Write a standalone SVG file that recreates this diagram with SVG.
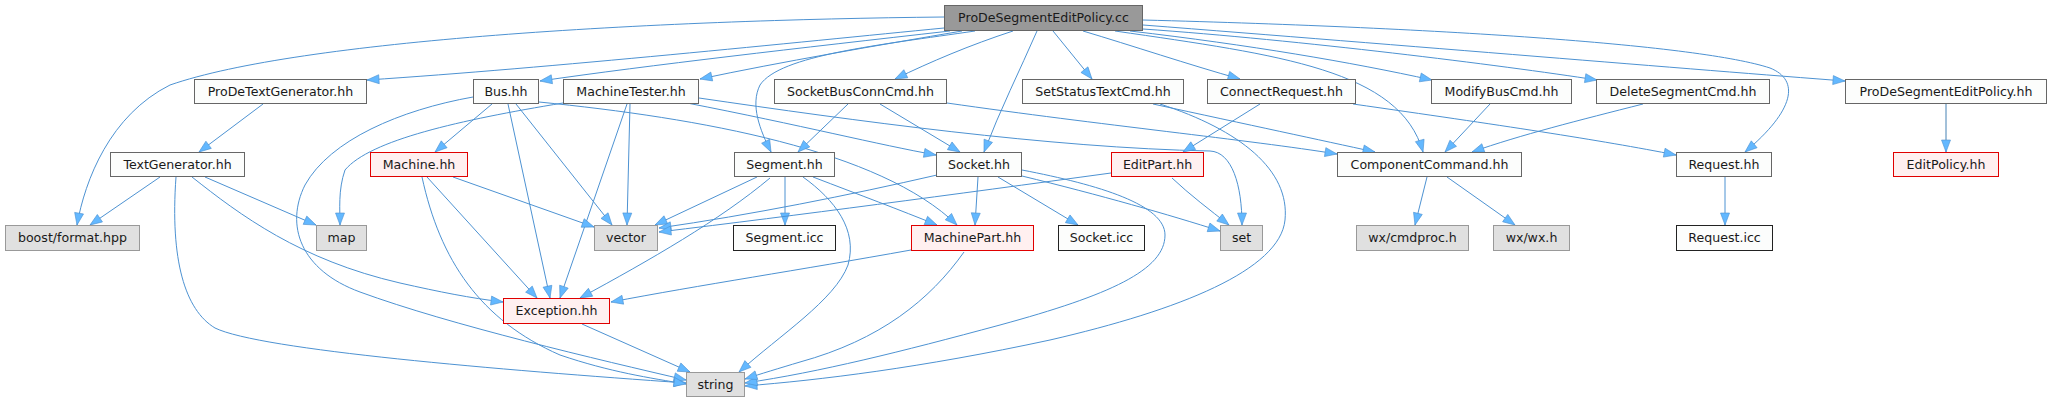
<svg xmlns="http://www.w3.org/2000/svg" width="2052" height="403" viewBox="0 0 2052 403">
<style>
.n rect{fill:#fcfdfc;stroke:#666666;stroke-width:1}
.k rect{fill:#fcfdfc;stroke:#222222;stroke-width:1}
.g rect{fill:#e0e0e0;stroke:#999999;stroke-width:1}
.r rect{fill:#fff0f0;stroke:#e00000;stroke-width:1}
.root rect{fill:#999999;stroke:#666666;stroke-width:1}
text{font-family:"DejaVu Sans","Noto Sans",sans-serif;font-size:12.6px;fill:#1a1a1a;text-anchor:middle}
#edges path{fill:none;stroke:#4d92d2;stroke-width:1;marker-end:url(#a)}
</style>
<defs>
<marker id="a" markerWidth="14" markerHeight="11" refX="12" refY="4.5" orient="auto" markerUnits="userSpaceOnUse" viewBox="-1 -1 14 11">
<path d="M0,0 L12,4.5 L0,9 z" fill="#63b8ff" stroke="#4d92d2" stroke-width="0.6"/>
</marker>
</defs>
<rect width="2052" height="403" fill="#ffffff"/>
<g id="edges">
<path d="M944,17 C650,20 300,40 170,85 C110,115 85,180 77,225"/>
<path d="M944,28 C800,42 550,68 367,80"/>
<path d="M950,31 C800,48 650,65 540,81"/>
<path d="M962,31 C880,45 780,62 700,79"/>
<path d="M975,31 C880,45 780,55 760,85 C750,105 760,130 771,152"/>
<path d="M1013,31 C970,45 930,62 895,79"/>
<path d="M1037,31 C1020,70 1000,110 984,152"/>
<path d="M1053,31 L1092,79"/>
<path d="M1083,31 C1130,45 1190,65 1240,79"/>
<path d="M1115,31 C1280,55 1400,70 1423,152"/>
<path d="M1130,31 C1250,45 1350,62 1432,80"/>
<path d="M1143,29 C1300,40 1500,65 1597,80"/>
<path d="M1143,20 C1450,28 1700,45 1770,68 C1800,80 1795,110 1745,152"/>
<path d="M1143,25 C1400,45 1700,70 1845,81"/>
<path d="M263,104 L199,152"/>
<path d="M160,177 L90,225"/>
<path d="M205,177 L316,225"/>
<path d="M192,177 C240,215 300,260 400,283 C440,292 470,298 503,302"/>
<path d="M176,177 C170,260 185,310 215,328 C260,350 500,370 686,383"/>
<path d="M492,104 L435,152"/>
<path d="M508,104 L550,298"/>
<path d="M516,104 L612,225"/>
<path d="M539,102 C700,118 880,150 957,225"/>
<path d="M473,97 C400,110 330,140 305,185 C285,225 300,270 360,292 C450,325 600,360 686,380"/>
<path d="M563,103 C460,120 370,140 345,170 C338,190 340,210 340,225"/>
<path d="M630,104 L627,225"/>
<path d="M627,104 L560,298"/>
<path d="M687,103 C800,125 880,145 936,155"/>
<path d="M699,98 C850,120 1050,148 1210,151 C1232,152 1242,185 1242,225"/>
<path d="M848,104 L798,152"/>
<path d="M880,104 L960,152"/>
<path d="M947,103 C1100,125 1250,140 1337,154"/>
<path d="M1153,104 C1250,125 1320,140 1375,152"/>
<path d="M1160,104 C1240,130 1290,170 1285,220 C1280,270 1180,310 1050,340 C920,368 820,380 745,386"/>
<path d="M1260,104 L1183,152"/>
<path d="M1353,104 C1500,125 1600,140 1676,155"/>
<path d="M1490,104 L1445,152"/>
<path d="M1643,104 C1580,120 1520,135 1472,152"/>
<path d="M1427,177 L1415,225"/>
<path d="M1447,177 L1515,225"/>
<path d="M1725,177 L1725,225"/>
<path d="M1946,104 L1946,152" style="stroke:#4682b4"/>
<path d="M453,177 L594,227"/>
<path d="M427,177 L537,298"/>
<path d="M422,177 C440,260 480,320 560,355 C610,372 650,378 686,384"/>
<path d="M757,177 L655,225"/>
<path d="M770,178 C720,220 650,260 580,298"/>
<path d="M785,177 L785,225"/>
<path d="M803,177 C835,200 858,230 848,265 C835,300 780,335 739,372"/>
<path d="M813,177 C860,195 900,210 937,225"/>
<path d="M937,175 C850,195 750,215 659,228"/>
<path d="M978,177 L975,225"/>
<path d="M998,177 L1078,225"/>
<path d="M1022,176 C1100,195 1170,215 1220,231"/>
<path d="M1022,170 C1100,185 1165,205 1165,235 C1165,270 1110,295 1000,325 C900,352 820,372 745,383"/>
<path d="M1111,173 C950,195 800,215 659,232"/>
<path d="M1172,178 C1190,195 1210,210 1229,225"/>
<path d="M582,324 L690,372"/>
<path d="M911,250 C800,270 700,285 611,302"/>
<path d="M964,252 C930,300 880,340 800,362 C780,368 760,374 745,379"/>
</g>
<g id="root" class="root"><rect x="944.5" y="5.5" width="198" height="25"/><text x="1043.5" y="22">ProDeSegmentEditPolicy.cc</text></g>
<g id="prodetextgenerator" class="n"><rect x="194.5" y="79.5" width="172" height="24"/><text x="280.5" y="96">ProDeTextGenerator.hh</text></g>
<g id="bus" class="n"><rect x="473.5" y="79.5" width="65" height="24"/><text x="506" y="96">Bus.hh</text></g>
<g id="machinetester" class="n"><rect x="563.5" y="79.5" width="135" height="24"/><text x="631" y="96">MachineTester.hh</text></g>
<g id="socketbusconncmd" class="n"><rect x="774.5" y="79.5" width="172" height="24"/><text x="860.5" y="96">SocketBusConnCmd.hh</text></g>
<g id="setstatustextcmd" class="n"><rect x="1022.5" y="79.5" width="161" height="24"/><text x="1103" y="96">SetStatusTextCmd.hh</text></g>
<g id="connectrequest" class="n"><rect x="1207.5" y="79.5" width="148" height="24"/><text x="1281.5" y="96">ConnectRequest.hh</text></g>
<g id="modifybuscmd" class="n"><rect x="1431.5" y="79.5" width="140" height="24"/><text x="1501.5" y="96">ModifyBusCmd.hh</text></g>
<g id="deletesegmentcmd" class="n"><rect x="1596.5" y="79.5" width="173" height="24"/><text x="1683" y="96">DeleteSegmentCmd.hh</text></g>
<g id="prodesegmenteditpolicyhh" class="n"><rect x="1845.5" y="79.5" width="201" height="24"/><text x="1946" y="96">ProDeSegmentEditPolicy.hh</text></g>
<g id="textgenerator" class="n"><rect x="110.5" y="152.5" width="134" height="24"/><text x="177.5" y="169">TextGenerator.hh</text></g>
<g id="machine" class="r"><rect x="370.5" y="152.5" width="97" height="24"/><text x="419" y="169">Machine.hh</text></g>
<g id="segment" class="n"><rect x="734.5" y="152.5" width="100" height="24"/><text x="784.5" y="169">Segment.hh</text></g>
<g id="socket" class="n"><rect x="936.5" y="152.5" width="85" height="24"/><text x="979" y="169">Socket.hh</text></g>
<g id="editpart" class="r"><rect x="1111.5" y="152.5" width="92" height="24"/><text x="1157.5" y="169">EditPart.hh</text></g>
<g id="componentcommand" class="n"><rect x="1337.5" y="152.5" width="184" height="24"/><text x="1429.5" y="169">ComponentCommand.hh</text></g>
<g id="request" class="n"><rect x="1676.5" y="152.5" width="95" height="24"/><text x="1724" y="169">Request.hh</text></g>
<g id="editpolicy" class="r"><rect x="1893.5" y="152.5" width="105" height="24"/><text x="1946" y="169">EditPolicy.hh</text></g>
<g id="boostformat" class="g"><rect x="5.5" y="225.5" width="134" height="25"/><text x="72.5" y="242">boost/format.hpp</text></g>
<g id="map" class="g"><rect x="316.5" y="225.5" width="50" height="25"/><text x="341.5" y="242">map</text></g>
<g id="vector" class="g"><rect x="594.5" y="225.5" width="63" height="25"/><text x="626" y="242">vector</text></g>
<g id="segmenticc" class="k"><rect x="733.5" y="225.5" width="102" height="25"/><text x="784.5" y="242">Segment.icc</text></g>
<g id="machinepart" class="r"><rect x="911.5" y="225.5" width="122" height="25"/><text x="972.5" y="242">MachinePart.hh</text></g>
<g id="socketicc" class="k"><rect x="1058.5" y="225.5" width="86" height="25"/><text x="1101.5" y="242">Socket.icc</text></g>
<g id="set" class="g"><rect x="1220.5" y="225.5" width="42" height="25"/><text x="1241.5" y="242">set</text></g>
<g id="wxcmdproc" class="g"><rect x="1356.5" y="225.5" width="112" height="25"/><text x="1412.5" y="242">wx/cmdproc.h</text></g>
<g id="wxwx" class="g"><rect x="1493.5" y="225.5" width="76" height="25"/><text x="1531.5" y="242">wx/wx.h</text></g>
<g id="requesticc" class="k"><rect x="1676.5" y="225.5" width="96" height="25"/><text x="1724.5" y="242">Request.icc</text></g>
<g id="exception" class="r"><rect x="503.5" y="298.5" width="106" height="25"/><text x="556.5" y="315">Exception.hh</text></g>
<g id="string" class="g"><rect x="686.5" y="372.5" width="58" height="24"/><text x="715.5" y="389">string</text></g>
</svg>
